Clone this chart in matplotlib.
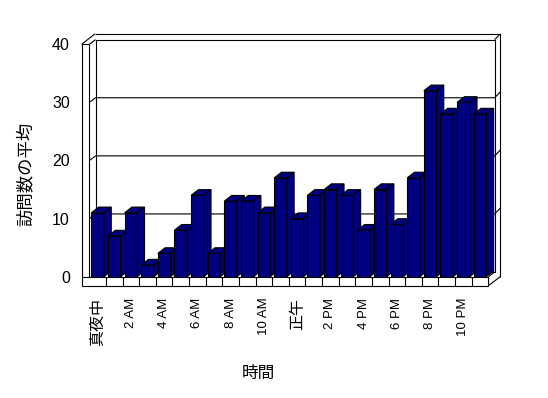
import matplotlib
matplotlib.use('Agg')
import matplotlib.pyplot as plt
from matplotlib.patches import Polygon

plt.rcParams['font.family'] = ['Liberation Sans', 'Noto Sans CJK JP']

# 時間帯ごとの訪問数の平均
hours = ['真夜中', '1 AM', '2 AM', '3 AM', '4 AM', '5 AM', '6 AM', '7 AM',
         '8 AM', '9 AM', '10 AM', '11 AM', '正午', '1 PM', '2 PM', '3 PM',
         '4 PM', '5 PM', '6 PM', '7 PM', '8 PM', '9 PM', '10 PM', '11 PM']
visits = [11, 7, 11, 2, 4, 8, 14, 4, 13, 13, 11, 17,
          10, 14, 15, 14, 8, 15, 9, 17, 32, 28, 30, 28]
yticks = [0, 10, 20, 30, 40]

navy = '#000080'
lw = 0.8
n = len(hours)
ymax = 40

fig = plt.figure(figsize=(5.48, 3.98), dpi=100)
ax = fig.add_axes([0.163, 0.3048, 0.7281, 0.5839])
ax.set_xlim(0, n)
ax.set_ylim(0, ymax)
for s in ax.spines.values():
    s.set_visible(False)

# 奥行き (データ単位)
ox, oy = 0.38, 0.8      # 背面の壁
wx, fy = 0.46, 1.55     # 左の壁と床の厚み
rx, ry = 0.34, 1.0      # 右の壁の厚み
bx, by = 0.44, 0.98     # 棒の奥行き
bw = 0.76


def seg(x, y, z=1):
    ax.plot(x, y, color='black', lw=lw, clip_on=False, zorder=z,
            solid_capstyle='butt')


# 背面の壁とグリッド
seg([ox, n + ox, n + ox, ox, ox], [oy, oy, ymax + oy, ymax + oy, oy])
for g in yticks[1:-1]:
    seg([0, ox, n + ox, n + ox + rx], [g, g + oy, g + oy, g + oy + ry])
# 上端と右の壁
seg([-wx, 0], [ymax, ymax])
seg([0, ox], [ymax, ymax + oy])
seg([-wx, ox - 0.04], [ymax, ymax + oy + ry])
seg([ox - 0.04, n + ox + rx, n + ox + rx], [ymax + oy + ry, ymax + oy + ry, 0])
seg([n + ox, n + ox + rx], [ymax + oy, ymax + oy + ry])
seg([n + ox + rx, n], [0, -fy], z=20)
seg([n, n + ox], [0, oy], z=20)
# 左の壁
seg([-wx, -wx], [-fy, ymax], z=20)
seg([0, 0], [0, ymax], z=20)
# 床の前面
seg([-wx, n, n, -wx], [0, 0, -fy, -fy], z=20)
for i in range(1, n):
    seg([i, i], [0, -fy], z=20)

# 3D 風の棒
for i, v in enumerate(visits):
    z = 2 + i * 0.01
    x0 = i + (1 - bw) / 2
    x1 = x0 + bw
    ax.bar(i + 0.5, v, width=bw, color=navy, edgecolor='black', lw=lw,
           zorder=z)
    top = Polygon([(x0, v), (x1, v), (x1 + bx, v + by), (x0 + bx, v + by)],
                  closed=True, fc=navy, ec='black', lw=lw, zorder=z,
                  clip_on=False)
    side = Polygon([(x1, 0), (x1, v), (x1 + bx, v + by), (x1 + bx, by)],
                   closed=True, fc=navy, ec='black', lw=lw, zorder=z,
                   clip_on=False)
    ax.add_patch(top)
    ax.add_patch(side)

ax.set_yticks(yticks)
ax.set_yticklabels([str(t) for t in yticks], fontsize=11.5)
ax.tick_params(axis='y', length=0, pad=14)

xt = list(range(0, n, 2))
ax.set_xticks([i + 0.5 for i in xt])
ax.set_xticklabels([hours[i] for i in xt], rotation=90, fontsize=9.5,
                   va='top')
ax.tick_params(axis='x', length=0, pad=15)
for lab in ax.get_xticklabels():
    if not lab.get_text().isascii():
        lab.set_fontsize(11.5)

ax.set_ylabel('訪問数の平均', fontsize=12.5)
ax.yaxis.set_label_coords(-0.14, 0.442)
ax.set_xlabel('時間', fontsize=12)
ax.xaxis.set_label_coords(0.423, -0.385)

fig.savefig('out.png', dpi=100)
